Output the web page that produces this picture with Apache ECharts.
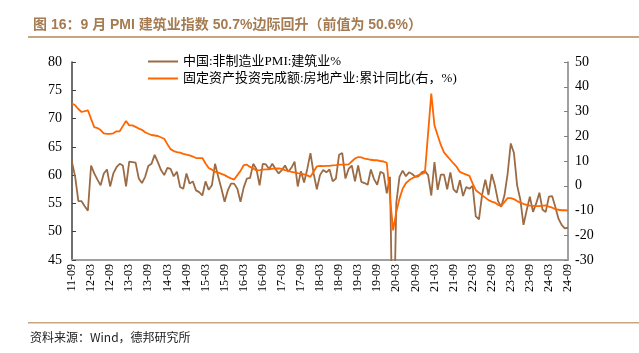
<!DOCTYPE html>
<html>
<head>
<meta charset="utf-8">
<script src="https://cdn.jsdelivr.net/npm/echarts@6/dist/echarts.min.js"></script>
<style>
  html, body { margin: 0; padding: 0; background: #fff; }
  #chart { width: 639px; height: 353px; }
</style>
</head>
<body>
<div id="chart"></div>
<script>
// 月份：2011-09 ~ 2024-09
const startYear = 2011
const startMonth = 9
const monthCount = 157
const months = Array.from({ length: monthCount }, (_, i) => {
  const m = startMonth - 1 + i
  const y = startYear + Math.floor(m / 12)
  return String(y).slice(2) + '-' + String((m % 12) + 1).padStart(2, '0')
})

// 中国:非制造业PMI:建筑业（左轴）
const pmiBuild = [
  62.3, 59.7, 55.4, 55.4, 54.5, 53.7, 61.7, 60.3, 59.2, 58.2,
  60.3, 61.0, 58.0, 60.3, 61.4, 62.0, 61.7, 58.0, 62.4, 62.3,
  62.2, 59.4, 58.6, 59.7, 61.6, 62.0, 63.6, 62.3, 60.9, 60.0,
  61.3, 61.1, 59.8, 60.6, 57.9, 57.6, 60.3, 58.5, 58.9, 57.3,
  57.0, 56.4, 58.9, 57.4, 58.2, 62.0, 59.7, 57.6, 55.3, 57.3,
  58.5, 58.5, 57.6, 55.3, 57.8, 59.4, 59.5, 62.0, 61.1, 58.2,
  62.0, 61.9, 61.1, 62.0, 61.1, 60.3, 60.9, 61.7, 60.6, 61.3,
  62.4, 58.0, 60.7, 58.7, 61.1, 63.9, 60.3, 57.5, 60.0, 60.9,
  60.5, 61.0, 58.9, 59.4, 63.6, 63.9, 59.4, 61.1, 61.7, 58.9,
  61.7, 58.8, 58.6, 58.3, 61.0, 59.3, 58.3, 60.6, 60.3, 56.8,
  59.7, 26.6, 55.1, 59.7, 60.8, 59.8, 60.5, 60.2, 59.7, 59.8,
  60.5, 60.7, 60.0, 56.4, 62.3, 57.4, 60.1, 60.1, 57.5, 60.5,
  57.5, 56.9, 59.1, 56.3, 57.9, 57.6, 58.1, 52.7, 52.2, 56.6,
  59.2, 56.5, 60.2, 58.2, 55.4, 54.4, 56.4, 60.2, 65.6, 63.9,
  58.2, 55.7, 51.2, 53.8, 56.2, 53.5, 55.0, 56.9, 53.9, 53.5,
  56.2, 56.3, 54.4, 52.3, 51.2, 50.6, 50.7,
]

// 固定资产投资完成额:房地产业:累计同比（右轴），1月无数据
const reInvest = [
  33.2, 32.5, 31.0, 29.8, null, 30.5, 27.0, 23.7, 23.3, 22.5,
  21.2, 21.0, 21.0, 21.2, 22.0, 22.0, null, 26.2, 24.4, 24.4,
  23.8, 23.1, 22.6, 21.6, 21.0, 20.5, 20.3, 20.1, null, 19.0,
  16.8, 14.8, 14.0, 13.6, 13.4, 12.9, 12.6, 12.3, 11.8, 11.2,
  null, 11.2, 9.0, 7.2, 6.5, 5.6, 5.3, 4.8, 4.3, 3.6,
  3.0, 2.5, null, 6.0, 8.3, 8.5, 7.6, 7.0, 6.2, 6.3,
  6.5, 6.6, 6.6, 6.9, null, 7.0, 6.8, 6.3, 6.0, 5.6,
  5.4, 5.1, 4.9, 4.6, 4.2, 3.6, null, 7.8, 8.0, 7.9,
  8.0, 8.0, 8.2, 8.3, 8.5, 8.5, 8.5, 8.6, null, 11.0,
  11.6, 11.5, 11.0, 10.8, 10.5, 10.3, 10.3, 10.0, 9.8, 9.3,
  null, -18.0, -10.6, -5.2, -1.2, 1.0, 2.2, 3.0, 3.7, 4.3,
  4.8, 5.3, null, 37.2, 24.4, 20.4, 16.5, 13.5, 12.0, 10.5,
  9.0, 7.6, 5.6, 5.0, null, 4.0, 1.0, -1.8, -2.8, -3.9,
  -4.8, -5.8, -6.4, -6.8, -7.7, -8.2, null, -5.0, -5.0, -5.4,
  -6.2, -6.8, -7.3, -7.7, -8.0, -8.1, -8.2, -8.2, null, -7.9,
  -8.4, -8.8, -9.5, -9.7, -9.9, -9.9, -10.0,
]

const serifFont = '"Liberation Serif", "Noto Sans CJK SC", serif'
const brown = '#9A6B45'
const orange = '#FF6600'
const ruleColor = '#C9A57F'

const chart = echarts.init(document.getElementById('chart'))

const option = {
  animation: false,
  title: {
    text: '图 16：9 月 PMI 建筑业指数 50.7%边际回升（前值为 50.6%）',
    left: 28,
    top: 13,
    textStyle: {
      fontSize: 14,
      fontWeight: 'bold',
      color: '#A57B52',
      fontFamily: '"Liberation Sans", "Noto Sans CJK SC", sans-serif',
    },
  },
  graphic: [
    { type: 'rect', shape: { x: 28, y: 36, width: 611, height: 2 }, style: { fill: ruleColor } },
    { type: 'rect', shape: { x: 28, y: 322, width: 611, height: 1.5 }, style: { fill: ruleColor } },
    {
      type: 'text',
      left: 30,
      top: 331,
      style: {
        text: '资料来源：Wind，德邦研究所',
        fontSize: 12,
        fill: '#222',
        fontFamily: '"Noto Sans CJK SC", sans-serif',
      },
    },
  ],
  legend: {
    orient: 'vertical',
    left: 143,
    top: 50,
    icon: 'rect',
    itemWidth: 30,
    itemHeight: 2,
    itemGap: 4,
    textStyle: { fontSize: 13, color: '#000', fontFamily: serifFont },
    data: ['中国:非制造业PMI:建筑业%', '固定资产投资完成额:房地产业:累计同比(右，%)'],
  },
  grid: { left: 72, right: 71, top: 62, bottom: 93 },
  xAxis: {
    type: 'category',
    data: months,
    boundaryGap: false,
    axisLine: { onZero: false, lineStyle: { color: '#A0A0A0', width: 2 } },
    axisTick: { show: false },
    splitLine: { show: false },
    axisLabel: {
      interval: 5,
      rotate: 90,
      margin: 4,
      fontSize: 12,
      color: '#000',
      fontFamily: serifFont,
    },
  },
  yAxis: [
    {
      type: 'value',
      min: 45,
      max: 80,
      interval: 5,
      axisLine: { show: true, lineStyle: { color: '#404040', width: 1.5 } },
      axisTick: { show: true, inside: true, length: 4, lineStyle: { color: '#404040' } },
      splitLine: { show: false },
      axisLabel: { fontSize: 14, color: '#000', margin: 10, fontFamily: serifFont },
    },
    {
      type: 'value',
      min: -30,
      max: 50,
      interval: 10,
      axisLine: { show: true, lineStyle: { color: '#808080', width: 1.5 } },
      axisTick: { show: true, inside: true, length: 4, lineStyle: { color: '#808080' } },
      splitLine: { show: false },
      axisLabel: { fontSize: 14, color: '#000', margin: 7, fontFamily: serifFont },
    },
  ],
  series: [
    {
      name: '中国:非制造业PMI:建筑业%',
      type: 'line',
      yAxisIndex: 0,
      symbol: 'none',
      clip: true,
      lineStyle: { color: brown, width: 1.8 },
      itemStyle: { color: brown },
      data: pmiBuild,
    },
    {
      name: '固定资产投资完成额:房地产业:累计同比(右，%)',
      type: 'line',
      yAxisIndex: 1,
      symbol: 'none',
      connectNulls: true,
      clip: true,
      lineStyle: { color: orange, width: 1.8 },
      itemStyle: { color: orange },
      data: reInvest,
    },
  ],
}

chart.setOption(option)
</script>
</body>
</html>
